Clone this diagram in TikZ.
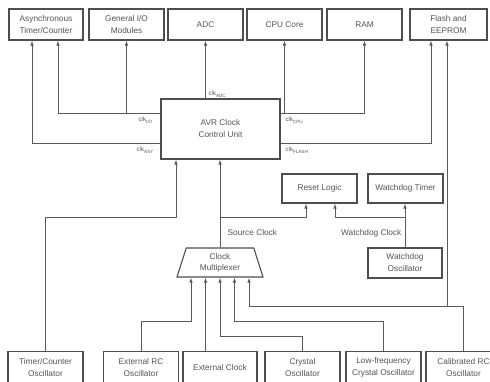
\documentclass[tikz,border=0pt]{standalone}
\usepackage{fontspec}
\setmainfont{Liberation Sans}
\usetikzlibrary{arrows.meta,shapes.geometric,calc}
\definecolor{ln}{HTML}{5A5A5A}
\definecolor{bx}{HTML}{4E4E4E}
\definecolor{tx}{HTML}{555555}
\newcommand{\clklbl}[1]{clk\raisebox{-2.2pt}{\fontsize{4.6}{5}\selectfont #1}}
\begin{document}
\begin{tikzpicture}[x=1pt,y=-1pt,
  box/.style={draw=bx, line width=1.1pt, fill=white, minimum height=31, minimum width=75,
    align=center, inner sep=1pt, font=\fontsize{8.3}{12}\selectfont, text=tx},
  arr/.style={draw=ln, line width=0.9pt, -{Latex[length=5pt,width=3.6pt]}},
  con/.style={draw=ln, line width=0.9pt},
  lbl/.style={font=\fontsize{6}{7}\selectfont, text=tx, inner sep=0.5pt},
  slbl/.style={font=\fontsize{8.3}{10}\selectfont, text=tx, inner sep=0.5pt}]
\useasboundingbox (0,0) rectangle (490,381);
\fill[white] (0,0) rectangle (490,381);

% top row
\node[box, minimum width=74] (async) at (46,24.5) {Asynchronous\\Timer/Counter};
\node[box] (gio) at (126.5,24.5) {General I/O\\Modules};
\node[box] (adc) at (205.5,24.5) {ADC};
\node[box] (cpu) at (284.5,24.5) {CPU Core};
\node[box] (ram) at (364.5,24.5) {RAM};
\node[box, minimum width=77] (flash) at (448.5,24.5) {Flash and\\EEPROM};

% clock control unit
\node[box, minimum width=119, minimum height=60] (avr) at (220.5,129) {AVR Clock\\Control Unit};

% reset / watchdog
\node[box, minimum height=29] (reset) at (319.5,188.5) {Reset Logic};
\node[box, minimum height=29] (wdt) at (405.5,188.5) {Watchdog Timer};
\node[box, minimum width=74, minimum height=30] (wdo) at (405,263) {Watchdog\\Oscillator};

% multiplexer
\node[trapezium, draw=bx, line width=1.1pt, fill=white, trapezium left angle=66, trapezium right angle=66,
  trapezium stretches body, minimum width=86, minimum height=29, inner sep=1pt,
  align=center, font=\fontsize{8.3}{11}\selectfont, text=tx] (mux) at (220,262.5) {Clock\\Multiplexer};

% bottom row
\node[box, minimum height=32] (tco) at (45.5,367.5) {Timer/Counter\\Oscillator};
\node[box, minimum height=32] (extrc) at (141,367.5) {External RC\\Oscillator};
\node[box, minimum height=32, minimum width=74] (extclk) at (220,367.5) {External Clock};
\node[box, minimum height=32] (crystal) at (302.5,367.5) {Crystal\\Oscillator};
\node[box, minimum height=32] (lfxo) at (383.5,367.5) {Low-frequency\\Crystal Oscillator};
\node[box, minimum height=32] (calrc) at (463.5,367.5) {Calibrated RC\\Oscillator};

% helper coordinates
\coordinate (as1) at ([xshift=-14]async.south);
\coordinate (as2) at ([xshift=12]async.south);
\coordinate (f1) at ([xshift=-17.5]flash.south);
\coordinate (f2) at ([xshift=-1.5]flash.south);
\coordinate (aL1) at ([yshift=16]avr.west);
\coordinate (aL2) at ([yshift=-14]avr.west);
\coordinate (aR1) at ([yshift=16]avr.east);
\coordinate (aR2) at ([yshift=-14]avr.east);
\coordinate (a1) at ([xshift=-44.5]avr.south);
\coordinate (i1) at ([xshift=-29]mux.south);
\coordinate (i2) at ([xshift=-14.5]mux.south);
\coordinate (i3) at (mux.south);
\coordinate (i4) at ([xshift=14.5]mux.south);
\coordinate (i5) at ([xshift=29]mux.south);
\coordinate (sj) at ($(mux.north)+(0,-30)$);
\coordinate (r1) at ([xshift=-13.5]reset.south);
\coordinate (r2) at ([xshift=15.5]reset.south);
\coordinate (cj) at ($(calrc.north)+(0,-45)$);

% clock distribution
\draw[arr] (aL2) -| (as1);
\draw[arr] (aL1) -| (as2);
\draw[arr] (aL1 -| gio.south) -- (gio.south);
\draw[arr] (avr.north -| adc.south) -- (adc.south);
\draw[arr] (aR1) -| (ram.south);
\draw[arr] (aR1 -| cpu.south) -- (cpu.south);
\draw[arr] (aR2) -| (f1);

% sources to control unit
\draw[arr] (tco.north) -- (tco.north |- sj) -| (a1);
\draw[arr] (mux.north) -- (mux.north |- avr.south);
\draw[arr] (sj) -| (r1);
\draw[arr] (wdo.north) -- (wdo.north |- wdt.south);
\draw[arr] (wdo.north |- sj) -| (r2);

% oscillators to multiplexer
\draw[arr] (extrc.north) -- ++(0,-30) -| (i1);
\draw[arr] (extclk.north -| i2) -- (i2);
\draw[arr] (crystal.north) -- ++(0,-15) -| (i3);
\draw[arr] (lfxo.north) -- ++(0,-30) -| (i4);
\draw[arr] (calrc.north) -- (cj) -| (i5);
\draw[arr] (cj -| f2) -- (f2);

% labels
\node[lbl, anchor=south west] (lADC) at (208,98) {\clklbl{ADC}};
\node[lbl, anchor=north west] (lIO) at (138,116) {\clklbl{I/O}};
\node[lbl, anchor=north west] (lASY) at (136,146) {\clklbl{ASY}};
\node[lbl, anchor=north west] (lCPU) at (285,116) {\clklbl{CPU}};
\node[lbl, anchor=north west] (lFL) at (285,146) {\clklbl{FLASH}};
\node[slbl, anchor=west] (lsrc) at (227,233) {Source Clock};
\node[slbl, anchor=east] (lwd) at (402,233) {Watchdog Clock};
\end{tikzpicture}
\end{document}
